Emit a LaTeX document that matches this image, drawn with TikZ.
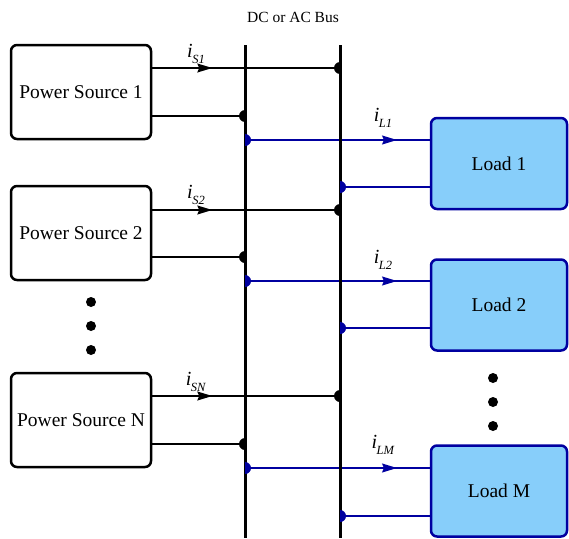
\documentclass[tikz,border=0pt]{standalone}
\usepackage{fontspec}
\setmainfont{Liberation Serif}
\usetikzlibrary{arrows.meta,decorations.markings}
\definecolor{wireblue}{RGB}{0,0,160}
\definecolor{loadfill}{RGB}{135,206,250}
\tikzset{
  srcbox/.style={draw=black, line width=2.5pt, rounded corners=6pt, minimum width=140pt, minimum height=94pt, inner sep=0pt, font=\fontsize{19.5}{22}\selectfont},
  loadbox/.style={draw=wireblue, fill=loadfill, line width=2.5pt, rounded corners=6pt, minimum width=136pt, minimum height=91pt, inner sep=0pt, font=\fontsize{19.5}{22}\selectfont},
  busline/.style={line width=3pt, black},
  wire/.style={line width=1.2pt, black},
  bwire/.style={line width=1.2pt, wireblue},
  arrowat/.style={postaction={decorate}, decoration={markings, mark=at position #1 with {\arrow{Stealth[length=15pt,width=9pt,inset=2pt]}}}},
  curlab/.style={inner sep=0pt, font=\fontsize{20}{22}\selectfont},
  bigdot/.style={circle, fill=black, inner sep=0pt, minimum size=10pt},
}
\newcommand{\curr}[1]{\textit{i}\kern-0.5pt\raisebox{-0.3em}{\fontsize{12.5}{12}\selectfont\textit{#1}}}
\newcommand{\dotleft}[2]{\fill[#2] ([yshift=6pt]#1) arc[start angle=90, end angle=270, radius=6pt] -- cycle;}
\newcommand{\dotright}[2]{\fill[#2] ([yshift=6pt]#1) arc[start angle=90, end angle=-90, radius=6pt] -- cycle;}
\begin{document}
\begin{tikzpicture}[x=1pt, y=-1pt]
\useasboundingbox (0,0) rectangle (569,538);
% title
\node[font=\fontsize{15.5}{18}\selectfont] (title) at (293,17) {DC or AC Bus};
% buses
\coordinate (atop) at (245,45); \coordinate (abot) at (245,538);
\coordinate (btop) at (340,45); \coordinate (bbot) at (340,538);
% sources
\node[srcbox] (s1) at (81,92) {Power Source 1};
\node[srcbox] (s2) at (81,233) {Power Source 2};
\node[srcbox] (sN) at (81,420) {Power Source N};
% loads
\node[loadbox] (l1) at (499,163.5) {Load 1};
\node[loadbox] (l2) at (499,305) {Load 2};
\node[loadbox] (lM) at (499,491) {Load M};
% junctions
\coordinate (s1t) at (340,68);  \coordinate (s1b) at (245,116);
\coordinate (l1t) at (245,140); \coordinate (l1b) at (340,187);
\coordinate (s2t) at (340,210); \coordinate (s2b) at (245,257);
\coordinate (l2t) at (245,281); \coordinate (l2b) at (340,328);
\coordinate (sNt) at (340,396); \coordinate (sNb) at (245,444);
\coordinate (lMt) at (245,468); \coordinate (lMb) at (340,516);
% source wires
\foreach \s in {s1,s2,sN}{
  \draw[wire, arrowat=60pt] (\s.east |- \s t) -- (\s t);
  \draw[wire] (\s.east |- \s b) -- (\s b);
}
% load wires
\foreach \l in {l1,l2,lM}{
  \draw[bwire, arrowat=152pt] (\l t) -- (\l.west |- \l t);
  \draw[bwire] (\l b) -- (\l.west |- \l b);
}
% bus lines
\draw[busline] (atop) -- (abot);
\draw[busline] (btop) -- (bbot);
% junction dots
\foreach \s in {s1,s2,sN}{
  \dotleft{\s t}{black}
  \dotleft{\s b}{black}
}
\foreach \l in {l1,l2,lM}{
  \dotright{\l t}{wireblue}
  \dotright{\l b}{wireblue}
}
% current labels
\node[curlab] (is1) at (196,54) {\curr{S1}};
\node[curlab] (is2) at (196,195) {\curr{S2}};
\node[curlab] (isN) at (196,382) {\curr{SN}};
\node[curlab] (il1) at (383,118) {\curr{L1}};
\node[curlab] (il2) at (383,260) {\curr{L2}};
\node[curlab] (ilM) at (383,445) {\curr{LM}};
% ellipsis dots
\node[bigdot] (ds1) at (91,302) {};
\node[bigdot] (ds2) at (91,326) {};
\node[bigdot] (ds3) at (91,350) {};
\node[bigdot] (dl1) at (493,378) {};
\node[bigdot] (dl2) at (493,402) {};
\node[bigdot] (dl3) at (493,426) {};
\end{tikzpicture}
\end{document}
